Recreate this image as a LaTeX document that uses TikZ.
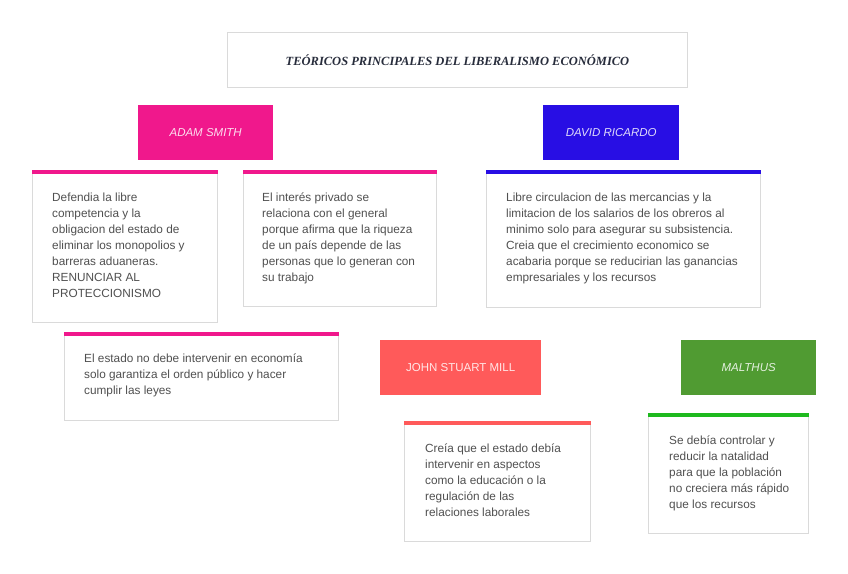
\documentclass[tikz,border=0pt]{standalone}
\usepackage{fontspec}
\setmainfont{Liberation Sans}
\newfontfamily\titlefont{Liberation Serif}
\definecolor{cpink}{RGB}{240,24,140}
\definecolor{cblue}{RGB}{40,14,228}
\definecolor{cred}{RGB}{255,90,90}
\definecolor{cgreen}{RGB}{80,155,50}
\definecolor{cgreenbar}{RGB}{30,185,30}
\definecolor{ctxt}{RGB}{80,80,80}
\definecolor{cborder}{RGB}{218,218,218}
\definecolor{ctitle}{RGB}{40,45,60}
\tikzset{
  card/.style={draw=cborder, line width=1pt, fill=white, rectangle, anchor=north west, inner sep=0pt},
  label/.style={rectangle, anchor=north west, inner sep=0pt, minimum width=#1, minimum height=55pt},
  lbltext/.style={text=white, text opacity=0.85, font=\fontsize{11.5}{13}\selectfont},
  lblit/.style={font=\itshape\fontsize{11.5}{13}\selectfont},
  txt/.style={anchor=north west, inner sep=0pt, align=left, text=ctxt, font=\fontsize{11.8}{16}\selectfont},
}
\begin{document}
\begin{tikzpicture}[x=1pt,y=-1pt]
\useasboundingbox[fill=white] (0,0) rectangle (848,573);
% title
\node[card, minimum width=460pt, minimum height=55pt] (title) at (227,32) {};
\node[text=ctitle, font=\titlefont\bfseries\itshape\fontsize{12.5}{14}\selectfont] (titletext) at (title.center) {TEÓRICOS PRINCIPALES DEL LIBERALISMO ECONÓMICO};
% name labels
\node[label=135pt, fill=cpink, lbltext, lblit] (adam) at (138,105) {ADAM SMITH};
\node[label=136pt, fill=cblue, lbltext, lblit] (david) at (543,105) {DAVID RICARDO};
\node[label=161pt, fill=cred, lbltext] (mill) at (380,340) {JOHN STUART MILL};
\node[label=135pt, fill=cgreen, lbltext, lblit] (malthus) at (681,340) {MALTHUS};
% cards
\node[card, minimum width=185pt, minimum height=152pt] (b1) at (32,170) {};
\fill[cpink] (b1.north west) rectangle ([yshift=-4pt]b1.north east);
\node[txt] (t1) at ([xshift=20pt,yshift=-23pt]b1.north west) {Defendia la libre\\competencia y la\\obligacion del estado de\\eliminar los monopolios y\\barreras aduaneras.\\RENUNCIAR AL\\PROTECCIONISMO};

\node[card, minimum width=193pt, minimum height=136pt] (b2) at (243,170) {};
\fill[cpink] (b2.north west) rectangle ([yshift=-4pt]b2.north east);
\node[txt] (t2) at ([xshift=19pt,yshift=-23pt]b2.north west) {El interés privado se\\relaciona con el general\\porque afirma que la riqueza\\de un país depende de las\\personas que lo generan con\\su trabajo};

\node[card, minimum width=274pt, minimum height=137pt] (b3) at (486,170) {};
\fill[cblue] (b3.north west) rectangle ([yshift=-4pt]b3.north east);
\node[txt] (t3) at ([xshift=20pt,yshift=-23pt]b3.north west) {Libre circulacion de las mercancias y la\\limitacion de los salarios de los obreros al\\minimo solo para asegurar su subsistencia.\\Creia que el crecimiento economico se\\acabaria porque se reducirian las ganancias\\empresariales y los recursos};

\node[card, minimum width=274pt, minimum height=88pt] (b4) at (64,332) {};
\fill[cpink] (b4.north west) rectangle ([yshift=-4pt]b4.north east);
\node[txt] (t4) at ([xshift=20pt,yshift=-22pt]b4.north west) {El estado no debe intervenir en economía\\solo garantiza el orden público y hacer\\cumplir las leyes};

\node[card, minimum width=186pt, minimum height=120pt] (b5) at (404,421) {};
\fill[cred] (b5.north west) rectangle ([yshift=-4pt]b5.north east);
\node[txt] (t5) at ([xshift=21pt,yshift=-23pt]b5.north west) {Creía que el estado debía\\intervenir en aspectos\\como la educación o la\\regulación de las\\relaciones laborales};

\node[card, minimum width=160pt, minimum height=120pt] (b6) at (648,413) {};
\fill[cgreenbar] (b6.north west) rectangle ([yshift=-4pt]b6.north east);
\node[txt] (t6) at ([xshift=21pt,yshift=-23pt]b6.north west) {Se debía controlar y\\reducir la natalidad\\para que la población\\no creciera más rápido\\que los recursos};
\end{tikzpicture}
\end{document}
